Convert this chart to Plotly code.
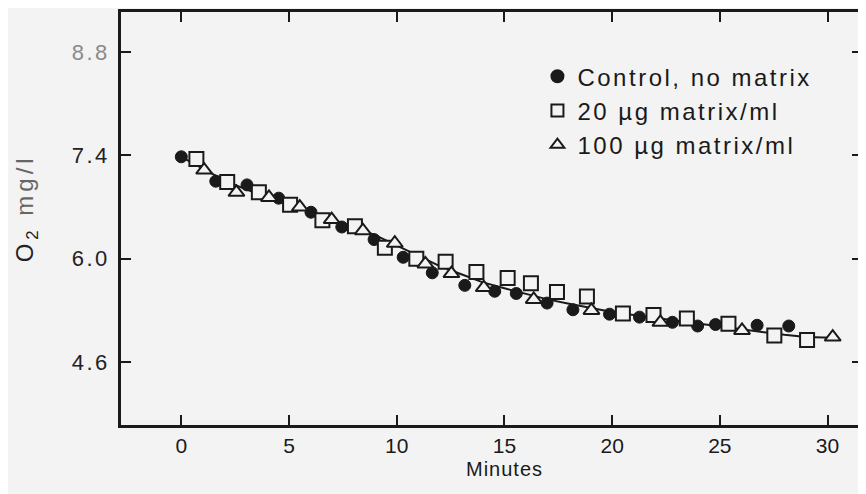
import plotly.graph_objects as go

# Control, no matrix (filled circles)
control_x = [0.0, 1.6, 3.05, 4.52, 6.02, 7.45, 8.95, 10.3, 11.65, 13.16, 14.55, 15.55,
             16.98, 18.18, 19.88, 21.27, 22.8, 23.97, 24.8, 26.73, 28.2]
control_y = [7.38, 7.05, 7.00, 6.82, 6.63, 6.43, 6.26, 6.02, 5.81, 5.64, 5.56, 5.53,
             5.40, 5.31, 5.25, 5.21, 5.14, 5.09, 5.11, 5.10, 5.09]

# 20 ug matrix/ml (open squares)
m20_x = [0.7, 2.13, 3.6, 5.05, 6.55, 8.06, 9.45, 10.91, 12.27, 13.7, 15.15, 16.23,
         17.44, 18.83, 20.5, 21.92, 23.47, 25.4, 27.53, 29.05]
m20_y = [7.35, 7.04, 6.90, 6.73, 6.52, 6.44, 6.15, 6.00, 5.96, 5.82, 5.74, 5.67,
         5.55, 5.49, 5.26, 5.24, 5.19, 5.12, 4.96, 4.90]

# 100 ug matrix/ml (open triangles)
m100_x = [1.06, 2.56, 4.07, 5.5, 6.98, 8.43, 9.91, 11.33, 12.54, 14.04, 16.36, 19.04,
          22.24, 26.03, 30.24]
m100_y = [7.20, 6.90, 6.83, 6.70, 6.53, 6.38, 6.21, 5.93, 5.80, 5.61, 5.45, 5.30,
          5.14, 5.03, 4.94]

# Fitted curve drawn through the data
fit_x = [0, 1, 2, 3, 4, 5, 6, 7, 8, 9, 10, 11, 12, 13, 14, 15, 16, 17, 18, 19, 20,
         21, 22, 23, 24, 25, 26, 27, 28, 29, 30.24]
fit_y = [7.38, 7.22, 7.06, 6.94, 6.84, 6.73, 6.63, 6.53, 6.43, 6.32, 6.18, 6.03, 5.90,
         5.79, 5.68, 5.60, 5.52, 5.45, 5.39, 5.33, 5.28, 5.24, 5.20, 5.16, 5.12, 5.09,
         5.05, 5.01, 4.97, 4.94, 4.93]

series_names = ["Control, no matrix", "20 µg matrix/ml", "100 µg matrix/ml"]
x_ticks = [0, 5, 10, 15, 20, 25, 30]
y_ticks = [4.6, 6.0, 7.4, 8.8]
y_tick_labels = ["4.6", "6.0", "7.4", "8.8"]

BG = "#f3f3f4"
INK = "#1a1a1a"
y_tick_colors = ["#222", "#222", "#222", "#8a8a8a"]


def spaced(t, px, color=None):
    c = f"color:{color};" if color else ""
    return f"<span style='letter-spacing:{px}px;{c}'>{t}</span>"


fig = go.Figure()
fig.add_trace(go.Scatter(x=fit_x, y=fit_y, mode="lines",
                         line=dict(color=INK, width=2), showlegend=False, hoverinfo="skip"))
fig.add_trace(go.Scatter(x=control_x, y=control_y, mode="markers", name=spaced(series_names[0], 2.5),
                         marker=dict(symbol="circle", size=12, color=INK,
                                     line=dict(color=INK, width=1))))
fig.add_trace(go.Scatter(x=m20_x, y=m20_y, mode="markers", name=spaced(series_names[1], 2.5),
                         marker=dict(symbol="square", size=14, color=BG,
                                     line=dict(color=INK, width=2))))
fig.add_trace(go.Scatter(x=m100_x, y=m100_y, mode="markers", name=spaced(series_names[2], 2.5),
                         marker=dict(symbol="triangle-up", size=14, color=BG,
                                     line=dict(color=INK, width=2))))

axis_common = dict(showline=True, linecolor=INK, linewidth=2.5, mirror="ticks",
                   ticks="inside", ticklen=10, tickwidth=2, tickcolor=INK,
                   showgrid=False, zeroline=False, automargin=False)

fig.update_xaxes(range=[-2.8, 31.6], tickvals=x_ticks,
                 tickfont=dict(family="Liberation Sans, Arial", size=21, color=INK),
                 ticklabelstandoff=0, **axis_common)
fig.update_yaxes(range=[3.75, 9.34], tickvals=y_ticks,
                 ticktext=[spaced(t, 2.5, c) for t, c in zip(y_tick_labels, y_tick_colors)],
                 tickfont=dict(family="Liberation Sans", size=22, color="#222"),
                 ticklabelstandoff=4, **axis_common)

fig.add_annotation(xref="paper", yref="paper", x=0.518, y=-0.107, yanchor="middle",
                   text=spaced("Minutes", 1), showarrow=False,
                   font=dict(family="Liberation Sans", size=20, color=INK))
fig.add_annotation(xref="paper", yref="paper", x=-0.128, y=0.525,
                   xanchor="center", yanchor="middle",
                   text="<span style='letter-spacing:4px'>O<sub>2</sub> <span style='color:#666'>mg/l</span></span>",
                   textangle=-90, showarrow=False,
                   font=dict(family="Liberation Sans", size=24, color="#222"))

fig.update_layout(
    width=858, height=486,
    margin=dict(l=113, r=4, t=4, b=69),
    paper_bgcolor=BG, plot_bgcolor=BG,
    showlegend=True,
    legend=dict(x=0.562, y=0.898, xanchor="left", yanchor="top", bgcolor="rgba(0,0,0,0)",
                font=dict(family="Liberation Sans", size=24, color=INK),
                itemsizing="constant", tracegroupgap=0),
)

fig.write_html("out.html")
